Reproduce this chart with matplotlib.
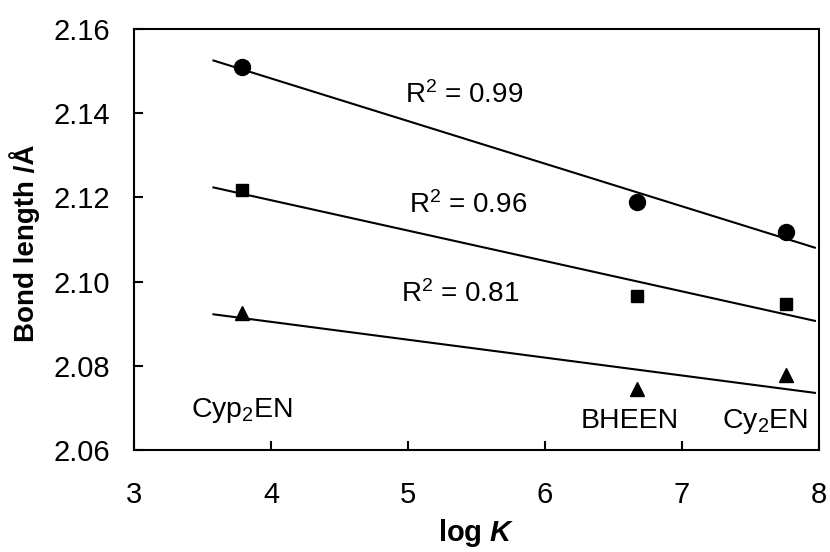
import numpy as np
import matplotlib
matplotlib.use("Agg")
import matplotlib.pyplot as plt

plt.rcParams['font.family'] = ['Liberation Sans', 'DejaVu Sans']
plt.rcParams['mathtext.fontset'] = 'custom'
plt.rcParams['mathtext.rm'] = 'Liberation Sans'
plt.rcParams['mathtext.it'] = 'Liberation Sans:italic:bold'
plt.rcParams['mathtext.bf'] = 'Liberation Sans:bold'

#---- Donnees
logK = [3.79, 6.67, 7.76]
circles = [2.151, 2.119, 2.1118]
squares = [2.1218, 2.0966, 2.0947]
triangles = [2.0926, 2.0745, 2.0778]
r2_labels = ["R$^2$ = 0.99", "R$^2$ = 0.96", "R$^2$ = 0.81"]
r2_pos = [(5.41, 2.1424), (5.44, 2.1163), (5.38, 2.0952)]
names = ["Cyp$_2$EN", "BHEEN", "Cy$_2$EN"]
name_pos = [(3.79, 2.0678), (6.62, 2.0652), (7.61, 2.0652)]

fig = plt.figure(figsize=(8.3, 5.52), dpi=100)
ax = fig.add_axes([134/830, 1-450/552, 685/830, 421/552])

#---- Points et droites de regression
xfit = np.array([3.58, 7.97])
for y, m, ms in [(circles, 'o', 11.5), (squares, 's', 8.5), (triangles, '^', 10)]:
    ax.plot(logK, y, m, color='black', markersize=ms, zorder=3)
    p = np.polyfit(logK, y, 1)
    ax.plot(xfit, np.polyval(p, xfit), '-', color='black', lw=1.5)

for txt, (x, y) in zip(r2_labels, r2_pos):
    ax.text(x, y, txt, fontsize=20, ha='center', va='baseline')
for txt, (x, y) in zip(names, name_pos):
    ax.text(x, y, txt, fontsize=20.5, ha='center', va='baseline')

#---- Axes
ax.set_xlim(3, 8)
ax.set_ylim(2.06, 2.16)
ax.set_xticks([3, 4, 5, 6, 7, 8])
ax.set_yticks([2.06, 2.08, 2.10, 2.12, 2.14, 2.16])
ax.set_yticklabels(["2.06", "2.08", "2.10", "2.12", "2.14", "2.16"])
ax.tick_params(direction='in', length=6.5, width=1.5, labelsize=21)
ax.tick_params(axis='x', pad=22)
ax.tick_params(axis='y', pad=17)
for s in ax.spines.values():
    s.set_linewidth(1.5)

ax.set_xlabel(r"log $\it{K}$", fontsize=21, fontweight='bold')
ax.xaxis.set_label_coords(0.5, -0.158)
ax.set_ylabel("Bond length /Å", fontsize=20, fontweight='bold')
ax.yaxis.set_label_coords(-0.137, 0.49)

fig.savefig("out.png", dpi=100)
